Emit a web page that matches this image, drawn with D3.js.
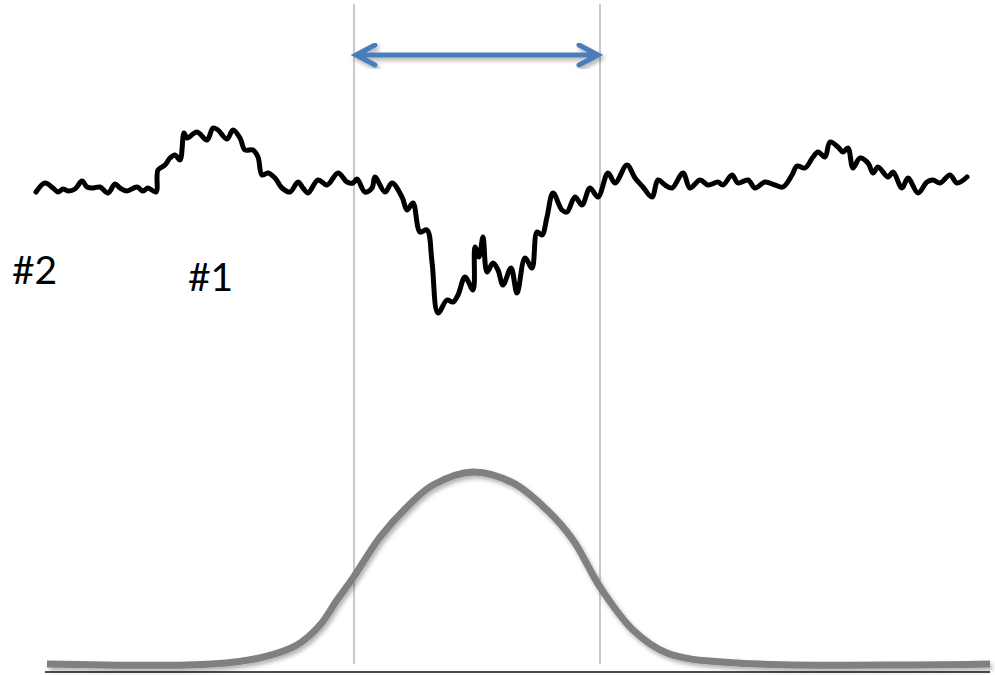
<!DOCTYPE html>
<html>
<head>
<meta charset="utf-8">
<script src="https://cdn.jsdelivr.net/npm/d3@7"></script>
<style>
  html, body { margin: 0; padding: 0; background: #fff; }
  svg { display: block; }
</style>
</head>
<body>
<svg id="chart" width="995" height="675"></svg>
<script>
// Recorded signal: sample time and amplitude (arbitrary units, 0 = resting level)
const traceTime = [
  1, 10, 18, 23, 28, 33, 40, 47, 52, 58,
  65, 73, 80, 85, 92, 102, 108, 113, 121, 123,
  130, 135, 140, 145, 149, 152, 162, 172, 178, 183,
  192, 198, 205, 210, 218, 223, 227, 233, 240, 247,
  255, 263, 268, 273, 283, 292, 303, 312, 318, 322,
  330, 337, 340, 350, 357, 367, 372, 378, 385, 392,
  397, 403, 412, 418, 423, 430, 438, 440, 444, 448,
  452, 458, 463, 468, 476, 482, 490, 497, 502, 507,
  512, 518, 527, 532, 540, 547, 555, 563, 573, 580,
  592, 600, 608, 617, 623, 630, 637, 648, 655, 665,
  673, 683, 688, 697, 703, 713, 720, 730, 740, 748,
  757, 762, 770, 778, 783, 790, 795, 803, 808, 813,
  818, 825, 833, 838, 843, 853, 858, 867, 873, 883,
  892, 898, 905, 915, 922, 932
];
const traceValue = [
  -9, 0, -5, -9, -6, -8, -6, 2, -4, -5,
  -4, -10, -1, -5, -8, -4, -8, -5, -9, 13,
  18, 25, 28, 23, 50, 45, 51, 43, 55, 53,
  44, 53, 45, 33, 33, 26, 8, 10, 5, -5,
  -9, 1, -5, -10, 3, -2, 10, 1, 0, 4,
  -9, -5, 6, -9, 0, -14, -27, -20, -49, -47,
  -79, -130, -117, -119, -112, -94, -107, -64, -74, -54,
  -89, -80, -87, -102, -85, -110, -75, -85, -49, -52,
  -34, -10, -27, -29, -14, -22, -5, -14, 10, 0,
  18, 5, -4, -14, 3, -2, -5, 10, -5, 3,
  -2, 1, -2, 8, 0, 3, -5, 1, -2, -4,
  8, 17, 15, 26, 31, 26, 41, 36, 31, 35,
  15, 25, 20, 10, 16, 6, 11, -5, 5, -10,
  1, 3, 0, 8, 0, 6
];

// Window weighting function (0..1)
const weightTime  = [12, 177, 228, 262, 285, 302, 318, 345, 372, 398, 438, 478, 512, 538, 565, 598, 632, 702, 955];
const weightValue = [0, 0, 0.036, 0.099, 0.203, 0.333, 0.448, 0.661, 0.818, 0.932, 1.0, 0.943, 0.802, 0.646, 0.401, 0.177, 0.057, 0.005, 0];

// Analysis window edges
const windowEdges = [319, 565];

// Markers
const markerLabels = ["#2", "#1"];
const markerTime   = [-23, 153];

const svg = d3.select("#chart");

const x = d3.scaleLinear().domain([0, 960]).range([35, 995]);
const yTrace = d3.scaleLinear().domain([-150, 200]).range([333, -17]);
const yWeight = d3.scaleLinear().domain([0, 1]).range([664, 472]);

const defs = svg.append("defs");
const shadow = defs.append("filter").attr("id", "soft-shadow")
  .attr("x", "-10%").attr("y", "-10%").attr("width", "120%").attr("height", "130%");
shadow.append("feDropShadow")
  .attr("dx", 2).attr("dy", 3).attr("stdDeviation", 2)
  .attr("flood-color", "#000").attr("flood-opacity", 0.3);

// Window edge lines
svg.append("g").selectAll("line")
  .data(windowEdges)
  .join("line")
  .attr("x1", d => x(d)).attr("x2", d => x(d))
  .attr("y1", 4).attr("y2", 664)
  .attr("stroke", "#a6a6a6")
  .attr("stroke-width", 1.2);

// Baseline
svg.append("line")
  .attr("x1", x(10)).attr("x2", x(955))
  .attr("y1", 672).attr("y2", 672)
  .attr("stroke", "#111")
  .attr("stroke-width", 1.5);

// Weighting curve
const weightLine = d3.line()
  .x((d, i) => x(weightTime[i]))
  .y(d => yWeight(d))
  .curve(d3.curveCatmullRom.alpha(0.5));
svg.append("path")
  .datum(weightValue)
  .attr("d", weightLine)
  .attr("fill", "none")
  .attr("stroke", "#808080")
  .attr("stroke-width", 7)
  .attr("filter", "url(#soft-shadow)");

// Signal trace
const traceLine = d3.line()
  .x((d, i) => x(traceTime[i]))
  .y(d => yTrace(d))
  .curve(d3.curveCatmullRom.alpha(0.5));
svg.append("path")
  .datum(traceValue)
  .attr("d", traceLine)
  .attr("fill", "none")
  .attr("stroke", "#000")
  .attr("stroke-width", 5)
  .attr("stroke-linejoin", "round")
  .attr("stroke-linecap", "round");

// Double-headed arrow spanning the window
const arrowY = 55;
const xa = x(windowEdges[0]) + 2, xb = x(windowEdges[1]) - 2;
const arrowPath = d3.path();
arrowPath.moveTo(xa, arrowY); arrowPath.lineTo(xb, arrowY);
arrowPath.moveTo(xa + 19, arrowY - 10); arrowPath.lineTo(xa, arrowY); arrowPath.lineTo(xa + 19, arrowY + 10);
arrowPath.moveTo(xb - 19, arrowY - 10); arrowPath.lineTo(xb, arrowY); arrowPath.lineTo(xb - 19, arrowY + 10);
svg.append("path")
  .attr("d", arrowPath.toString())
  .attr("fill", "none")
  .attr("stroke", "#4a7ebb")
  .attr("stroke-width", 5)
  .attr("stroke-linecap", "round")
  .attr("stroke-linejoin", "miter")
  .attr("filter", "url(#soft-shadow)");

// Marker labels
svg.append("g").selectAll("text")
  .data(markerLabels)
  .join("text")
  .attr("x", (d, i) => x(markerTime[i]))
  .attr("y", (d, i) => i === 0 ? 284 : 291)
  .attr("font-family", "Lato, 'Open Sans', sans-serif")
  .attr("font-size", 39)
  .attr("fill", "#000")
  .text(d => d);
</script>
</body>
</html>
